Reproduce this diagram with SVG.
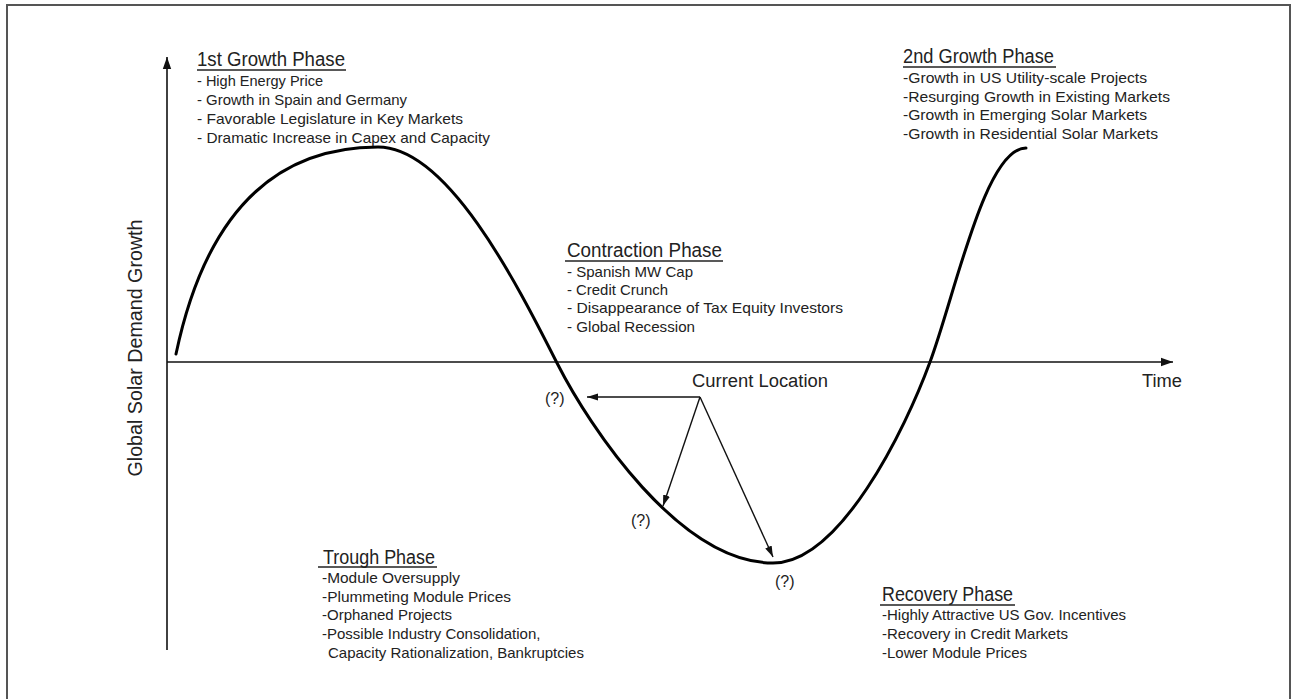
<svg xmlns="http://www.w3.org/2000/svg" width="1291" height="699" viewBox="0 0 1291 699">
<style>
.t{font-family:"Liberation Sans",Arial,sans-serif;fill:#222;}
.h{font-size:19.5px;}
.b{font-size:15px;}
.ax{stroke:#111;stroke-width:1.6;fill:none;}
.ul{stroke:#222;stroke-width:1.5;}
.arr{stroke:#111;stroke-width:1.4;fill:none;}
.curve{stroke:#000;stroke-width:3;fill:none;stroke-linecap:round;}
</style>
<defs>
<marker id="ah" markerUnits="userSpaceOnUse" markerWidth="14" markerHeight="10" refX="12" refY="5" orient="auto">
<path d="M0,0.8 L12,5 L0,9.2 Z" fill="#111"/>
</marker>
<marker id="ah2" markerUnits="userSpaceOnUse" markerWidth="12" markerHeight="8" refX="11" refY="4" orient="auto">
<path d="M0,0.5 L11,4 L0,7.5 Z" fill="#111"/>
</marker>
</defs>
<rect x="0" y="0" width="1291" height="699" fill="#fff"/>
<rect x="7" y="5" width="1283" height="710" fill="none" stroke="#555" stroke-width="2"/>

<g id="axes">
<line class="ax" x1="167" y1="650" x2="167" y2="57" marker-end="url(#ah)"/>
<line class="ax" x1="167" y1="362" x2="1173" y2="362" marker-end="url(#ah)"/>
<text class="t" font-size="18" x="1142" y="387" textLength="40" lengthAdjust="spacingAndGlyphs">Time</text>
<text class="t" font-size="21" text-anchor="middle" transform="translate(142,348) rotate(-90)" textLength="257" lengthAdjust="spacingAndGlyphs">Global Solar Demand Growth</text>
</g>

<g id="curve">
<path class="curve" d="M176,354 C200,240 255,147 378,147 C447,147 515,280 557,363 C590,428 680,563 773,563 C840,563 905,430 930,362 C955,295 985,148 1026,148"/>
</g>

<g id="growth1">
<text class="t h" x="197" y="66" textLength="148" lengthAdjust="spacingAndGlyphs">1st Growth Phase</text>
<line class="ul" x1="197" y1="70" x2="346" y2="70"/>
<text class="t b" x="197" y="86" textLength="126" lengthAdjust="spacingAndGlyphs">- High Energy Price</text>
<text class="t b" x="197" y="105" textLength="210" lengthAdjust="spacingAndGlyphs">- Growth in Spain and Germany</text>
<text class="t b" x="197" y="124" textLength="266" lengthAdjust="spacingAndGlyphs">- Favorable Legislature in Key Markets</text>
<text class="t b" x="197" y="143" textLength="293" lengthAdjust="spacingAndGlyphs">- Dramatic Increase in Capex and Capacity</text>
</g>

<g id="growth2">
<text class="t h" x="903" y="63" textLength="151" lengthAdjust="spacingAndGlyphs">2nd Growth Phase</text>
<line class="ul" x1="903" y1="67" x2="1056" y2="67"/>
<text class="t b" x="903" y="83" textLength="244" lengthAdjust="spacingAndGlyphs">-Growth in US Utility-scale Projects</text>
<text class="t b" x="903" y="102" textLength="267" lengthAdjust="spacingAndGlyphs">-Resurging Growth in Existing Markets</text>
<text class="t b" x="903" y="120" textLength="244" lengthAdjust="spacingAndGlyphs">-Growth in Emerging Solar Markets</text>
<text class="t b" x="903" y="139" textLength="255" lengthAdjust="spacingAndGlyphs">-Growth in Residential Solar Markets</text>
</g>

<g id="contraction">
<text class="t h" x="567" y="257" textLength="155" lengthAdjust="spacingAndGlyphs">Contraction Phase</text>
<line class="ul" x1="565" y1="261" x2="723" y2="261"/>
<text class="t b" x="567" y="277" textLength="126" lengthAdjust="spacingAndGlyphs">- Spanish MW Cap</text>
<text class="t b" x="567" y="295" textLength="101" lengthAdjust="spacingAndGlyphs">- Credit Crunch</text>
<text class="t b" x="567" y="313" textLength="276" lengthAdjust="spacingAndGlyphs">- Disappearance of Tax Equity Investors</text>
<text class="t b" x="567" y="332" textLength="128" lengthAdjust="spacingAndGlyphs">- Global Recession</text>
</g>

<g id="trough">
<text class="t h" x="323" y="564" textLength="112" lengthAdjust="spacingAndGlyphs">Trough Phase</text>
<line class="ul" x1="318" y1="567" x2="437" y2="567"/>
<text class="t b" x="322" y="583" textLength="138" lengthAdjust="spacingAndGlyphs">-Module Oversupply</text>
<text class="t b" x="322" y="602" textLength="189" lengthAdjust="spacingAndGlyphs">-Plummeting Module Prices</text>
<text class="t b" x="322" y="620">-Orphaned Projects</text>
<text class="t b" x="322" y="639">-Possible Industry Consolidation,</text>
<text class="t b" x="328" y="658">Capacity Rationalization, Bankruptcies</text>
</g>

<g id="recovery">
<text class="t h" x="882" y="601" textLength="131" lengthAdjust="spacingAndGlyphs">Recovery Phase</text>
<line class="ul" x1="880" y1="605" x2="1015" y2="605"/>
<text class="t b" x="882" y="620">-Highly Attractive US Gov. Incentives</text>
<text class="t b" x="882" y="639">-Recovery in Credit Markets</text>
<text class="t b" x="882" y="658">-Lower Module Prices</text>
</g>

<g id="current-location">
<text class="t" font-size="18" x="692" y="387" textLength="136" lengthAdjust="spacingAndGlyphs">Current Location</text>
</g>

<g id="connectors">
<line class="arr" x1="700" y1="397" x2="587" y2="397" marker-end="url(#ah2)"/>
<line class="arr" x1="700" y1="397" x2="663" y2="506" marker-end="url(#ah2)"/>
<line class="arr" x1="700" y1="397" x2="773" y2="557" marker-end="url(#ah2)"/>
</g>

<g id="labels">
<text class="t" font-size="16" x="545" y="404">(?)</text>
<text class="t" font-size="16" x="631" y="526">(?)</text>
<text class="t" font-size="16" x="775" y="587">(?)</text>
</g>
</svg>
